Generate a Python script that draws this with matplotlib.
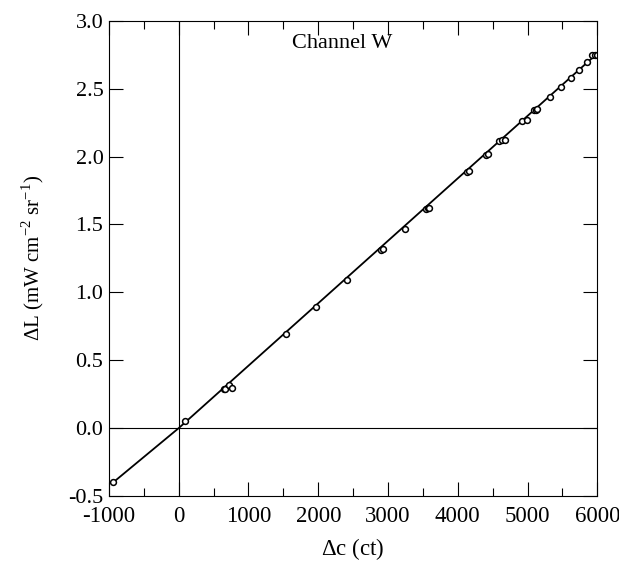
import matplotlib
matplotlib.use("Agg")
import matplotlib.pyplot as plt
from matplotlib.ticker import MultipleLocator

plt.rcParams["font.family"] = ["Liberation Serif", "DejaVu Serif"]
plt.rcParams["mathtext.fontset"] = "custom"
plt.rcParams["mathtext.rm"] = "Liberation Serif"
plt.rcParams["axes.unicode_minus"] = False

# calibration points (counts, radiance)
dc = [-940, 83, 643, 670, 715, 763, 1532, 1973, 2418, 2905, 2925,
      3240, 3550, 3570, 3590, 4130, 4155, 4410, 4435, 4590, 4630, 4680,
      4925, 4985, 5095, 5120, 5140, 5320, 5473, 5617, 5736, 5856,
      5930, 5960, 5990]
dl = [-0.40, 0.051, 0.287, 0.29, 0.316, 0.299, 0.691, 0.892, 1.093, 1.313, 1.322,
      1.47, 1.612, 1.618, 1.624, 1.885, 1.892, 2.012, 2.022, 2.118, 2.12, 2.125,
      2.262, 2.27, 2.34, 2.345, 2.35, 2.436, 2.51, 2.58, 2.635, 2.696,
      2.745, 2.745, 2.748]

# fitted line as drawn
fit_x = [-940, 0, 6000]
fit_y = [-0.40, 0.0, 2.76]

fig = plt.figure(figsize=(6.19, 5.63), dpi=100)
ax = fig.add_axes([0.176, 0.119, 0.789, 0.844])

ax.axhline(0, color="black", lw=0.8)
ax.axvline(0, color="black", lw=0.8)
ax.plot(fit_x, fit_y, color="black", lw=1.3)
ax.plot(dc, dl, "o", mfc="white", mec="black", ms=4.2, mew=1.1)

ax.set_xlim(-1000, 6000)
ax.set_ylim(-0.5, 3.0)
ax.xaxis.set_major_locator(MultipleLocator(1000))
ax.xaxis.set_minor_locator(MultipleLocator(500))
ax.yaxis.set_major_locator(MultipleLocator(0.5))
ax.yaxis.set_major_formatter(lambda v, p: f"{v:.1f}")

ax.tick_params(axis="both", which="major", direction="in", length=10,
               width=0.8, labelsize=16, top=True, right=True)
ax.tick_params(axis="y", which="major", pad=4)
ax.tick_params(axis="x", which="major", pad=7, labelsize=16.5)
ax.tick_params(axis="x", which="minor", direction="in", length=6,
               width=0.8, top=True)
for s in ax.spines.values():
    s.set_linewidth(0.8)

ax.text(2350, 2.83, "Channel W", fontsize=16, ha="center", va="center")

ax.set_xlabel(r"$\Delta$c (ct)", fontsize=16.5, labelpad=7)
ax.set_ylabel(r"$\Delta$L (mW cm$^{-2}$ sr$^{-1}$)", fontsize=15, labelpad=16)

fig.savefig("out.png", dpi=100)
